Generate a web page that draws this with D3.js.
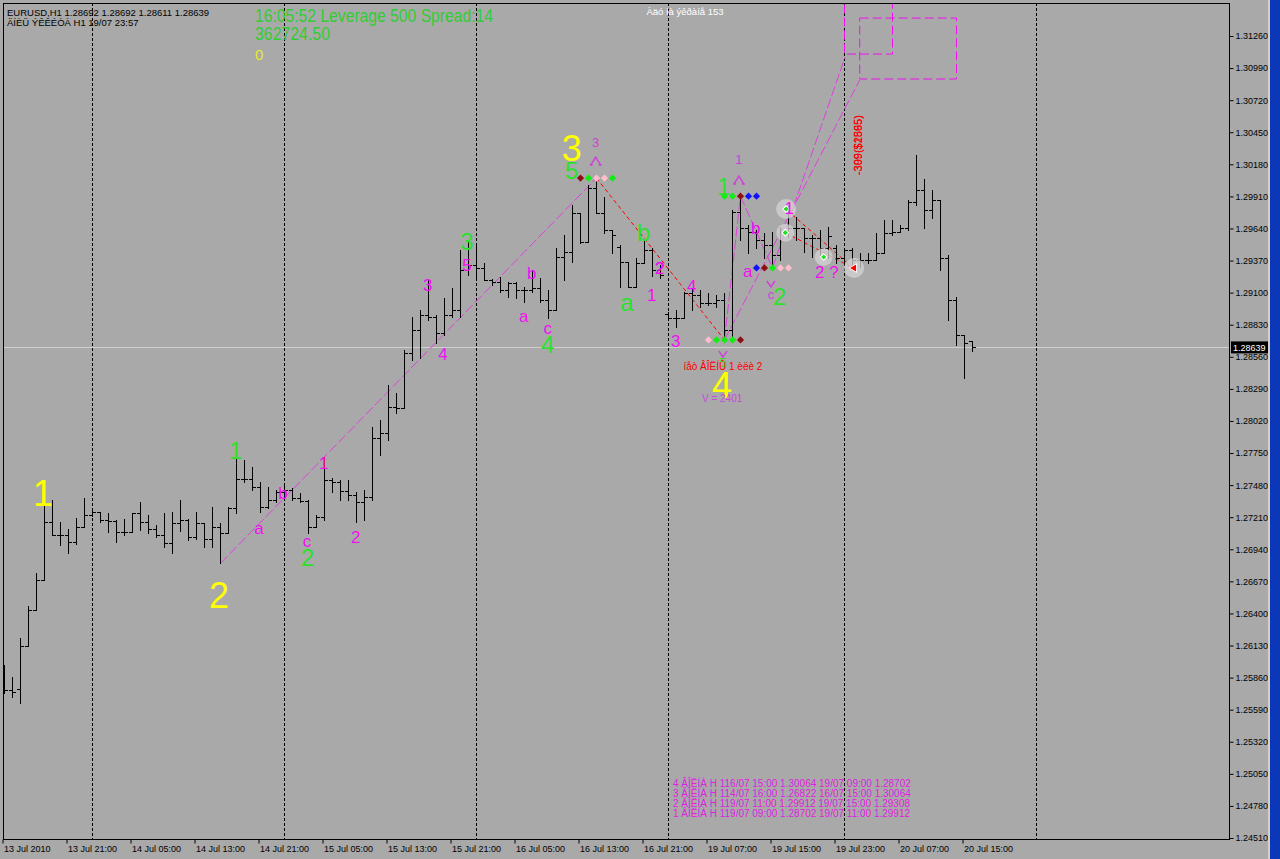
<!DOCTYPE html>
<html><head><meta charset="utf-8">
<script src="https://cdn.jsdelivr.net/npm/d3@7"></script>
<style>
html,body{margin:0;padding:0;background:#a9a9a9;overflow:hidden}
svg{display:block}
text{font-family:"Liberation Sans",Arial,sans-serif}
</style></head><body><svg id="c" width="1280" height="859"></svg>
<script>
// ---------- DATA ----------
const open = [
1.25757,1.25757,1.25765,1.26126,1.26430,1.26682,1.27170,1.27061,1.27061,1.27002,
1.27128,1.27229,1.27254,1.27187,1.27179,1.27086,1.27086,1.27246,1.27170,1.27111,
1.27061,1.26994,1.27162,1.27187,1.27044,1.27162,1.27027,1.27128,1.27078,1.27288,
1.27532,1.27532,1.27464,1.27296,1.27355,1.27422,1.27439,1.27372,1.27346,1.27128,
1.27212,1.27523,1.27506,1.27431,1.27397,1.27338,1.27380,1.27877,1.27919,1.28137,
1.28129,1.28592,1.28785,1.28911,1.28894,1.28760,1.28911,1.28953,1.29290,1.29332,
1.29307,1.29206,1.29189,1.29122,1.29181,1.29122,1.29122,1.29139,1.29038,1.28953,
1.29399,1.29441,1.29770,1.29525,1.29980,1.29770,1.29626,1.29483,1.29357,1.29147,
1.29349,1.29458,1.29290,1.28920,1.28886,1.28886,1.29097,1.29080,1.29012,1.29012,
1.29038,1.28785,1.29779,1.29643,1.29610,1.29542,1.29500,1.29416,1.29610,1.29643,
1.29643,1.29559,1.29559,1.29475,1.29475,1.29391,1.29458,1.29374,1.29374,1.29374,
1.29433,1.29601,1.29610,1.29643,1.29862,1.29963,1.29795,1.29879,1.29391,1.29038,
1.28743,1.28692];
const high = [
1.25967,1.25866,1.26195,1.26463,1.26741,1.27355,1.27355,1.27170,1.27111,1.27204,
1.27372,1.27288,1.27254,1.27246,1.27187,1.27195,1.27246,1.27338,1.27229,1.27145,
1.27246,1.27254,1.27355,1.27195,1.27254,1.27162,1.27296,1.27162,1.27296,1.27843,
1.27692,1.27633,1.27506,1.27464,1.27439,1.27481,1.27456,1.27414,1.27355,1.27229,
1.27717,1.27540,1.27523,1.27523,1.27422,1.27439,1.27969,1.28028,1.28323,1.28255,
1.28617,1.28894,1.28953,1.29206,1.28911,1.29055,1.29139,1.29458,1.29525,1.29500,
1.29349,1.29214,1.29231,1.29189,1.29189,1.29147,1.29290,1.29223,1.29122,1.29475,
1.29584,1.29837,1.29770,1.30005,1.30064,1.29905,1.29626,1.29500,1.29357,1.29391,
1.29542,1.29475,1.29332,1.28937,1.28953,1.29105,1.29139,1.29122,1.29097,1.29080,
1.29097,1.29795,1.29912,1.29668,1.29626,1.29601,1.29610,1.29652,1.29837,1.29736,
1.29643,1.29584,1.29626,1.29652,1.29500,1.29475,1.29475,1.29433,1.29433,1.29601,
1.29711,1.29711,1.29668,1.29879,1.30258,1.30055,1.29963,1.29879,1.29416,1.29063,
1.28743,1.28692];
const low = [
1.25732,1.25698,1.25648,1.26126,1.26430,1.26682,1.27061,1.26977,1.26910,1.26985,
1.27128,1.27220,1.27170,1.27086,1.27002,1.27061,1.27086,1.27103,1.27078,1.27044,
1.26960,1.26910,1.27094,1.27019,1.27027,1.26960,1.26960,1.26822,1.27078,1.27246,
1.27506,1.27439,1.27254,1.27288,1.27338,1.27372,1.27355,1.27338,1.27078,1.27128,
1.27187,1.27422,1.27355,1.27355,1.27170,1.27187,1.27355,1.27734,1.27860,1.28087,
1.28129,1.28533,1.28550,1.28869,1.28676,1.28743,1.28894,1.28894,1.29248,1.29206,
1.29206,1.29164,1.29105,1.29063,1.29055,1.29021,1.29105,1.29021,1.28886,1.28953,
1.29206,1.29357,1.29517,1.29525,1.29770,1.29601,1.29433,1.29147,1.29147,1.29147,
1.29349,1.29240,1.29223,1.28869,1.28810,1.28886,1.28953,1.28978,1.28995,1.28978,
1.28702,1.28718,1.29542,1.29433,1.29475,1.29391,1.29308,1.29374,1.29567,1.29542,
1.29441,1.29399,1.29399,1.29391,1.29349,1.29349,1.29315,1.29315,1.29349,1.29374,
1.29433,1.29584,1.29610,1.29626,1.29837,1.29643,1.29728,1.29290,1.28869,1.28659,
1.28381,1.28611];
const close = [
1.25757,1.25740,1.26126,1.26430,1.26682,1.27170,1.27061,1.27061,1.27002,1.27128,
1.27229,1.27254,1.27187,1.27179,1.27086,1.27086,1.27246,1.27170,1.27111,1.27061,
1.26994,1.27162,1.27187,1.27044,1.27162,1.27027,1.27128,1.27078,1.27288,1.27532,
1.27532,1.27464,1.27296,1.27355,1.27422,1.27439,1.27372,1.27346,1.27128,1.27212,
1.27523,1.27506,1.27431,1.27397,1.27338,1.27380,1.27877,1.27919,1.28137,1.28129,
1.28592,1.28785,1.28911,1.28894,1.28760,1.28911,1.28953,1.29290,1.29332,1.29307,
1.29206,1.29189,1.29122,1.29181,1.29122,1.29122,1.29139,1.29038,1.28953,1.29399,
1.29441,1.29770,1.29525,1.29980,1.29770,1.29626,1.29584,1.29357,1.29147,1.29349,
1.29458,1.29290,1.29248,1.28886,1.28886,1.29097,1.29080,1.29012,1.29012,1.29038,
1.28785,1.29779,1.29643,1.29610,1.29542,1.29500,1.29416,1.29610,1.29643,1.29643,
1.29559,1.29559,1.29475,1.29576,1.29391,1.29458,1.29374,1.29374,1.29374,1.29433,
1.29601,1.29610,1.29643,1.29862,1.29963,1.29795,1.29879,1.29391,1.29038,1.28743,
1.28676,1.28639];

const timeLabels = ["13 Jul 2010","13 Jul 21:00","14 Jul 05:00","14 Jul 13:00","14 Jul 21:00","15 Jul 05:00","15 Jul 13:00","15 Jul 21:00","16 Jul 05:00","16 Jul 13:00","16 Jul 21:00","19 Jul 07:00","19 Jul 15:00","19 Jul 23:00","20 Jul 07:00","20 Jul 15:00"];
const timeLabelBars = [0,8,16,24,32,40,48,56,64,72,80,88,96,104,112,120];
const dayGridBars = [11,35,59,83,105,129];
const priceTicks = [1.31260,1.30990,1.30720,1.30450,1.30180,1.29910,1.29640,1.29370,1.29100,1.28830,1.28560,1.28290,1.28020,1.27750,1.27480,1.27210,1.26940,1.26670,1.26400,1.26130,1.25860,1.25590,1.25320,1.25050,1.24780,1.24510];
const lastPrice = 1.28639;

const yellowLabels = [{t:"1",bar:4.8,p:1.27414},{t:"2",bar:26.8,p:1.26556},{t:"3",bar:70.9,p:1.30317},{t:"4",bar:89.7,p:1.28320}];
const greenLabels = [{t:"1",bar:28.9,p:1.27776},{t:"2",bar:37.9,p:1.26876},{t:"3",bar:57.8,p:1.29534},{t:"4",bar:67.9,p:1.28667},{t:"5",bar:70.9,p:1.30131},{t:"b",bar:79.9,p:1.29609},{t:"a",bar:77.8,p:1.28995},{t:"1",bar:89.9,p:1.29997},{t:"2",bar:96.9,p:1.29071}];
const magentaLabels = [{t:"a",bar:31.8,p:1.27103},{t:"b",bar:34.8,p:1.27414},{t:"c",bar:37.8,p:1.26994},{t:"1",bar:39.9,p:1.27667},{t:"2",bar:43.9,p:1.27044},{t:"3",bar:52.9,p:1.29164},{t:"4",bar:54.8,p:1.28583},{t:"5",bar:57.8,p:1.29332},{t:"a",bar:64.9,p:1.28886},{t:"b",bar:65.9,p:1.29265},{t:"c",bar:67.9,p:1.28785},{t:"2",bar:81.9,p:1.29307},{t:"?",bar:81.9,p:1.29307},{t:"1",bar:80.9,p:1.29080},{t:"4",bar:85.9,p:1.29156},{t:"3",bar:83.9,p:1.28693},{t:"b",bar:93.9,p:1.29643},{t:"a",bar:92.9,p:1.29273},{t:"1",bar:98.1,p:1.29812},{t:"2",bar:101.9,p:1.29273},{t:"?",bar:103.7,p:1.29273}];
const violetSmall = [{t:"3",bar:73.9,p:1.30368},{t:"1",bar:91.8,p:1.30225},{t:"c",bar:95.8,p:1.29071}];
const upCarets = [{bar:73.9,p:1.30207},{bar:91.8,p:1.30047}];
const downCarets = [{bar:95.8,p:1.29173},{bar:89.8,p:1.28583}];
const smallGreen = [{t:"5",bar:89.8,p:1.28516}];
const diamondRows = [
 {bar:72,p:1.30064,colors:["maroon","green","pink","pink","green"]},
 {bar:90,p:1.29912,colors:["green","green","maroon","blue","blue"]},
 {bar:94,p:1.29308,colors:["blue","maroon","green","pink","pink"]},
 {bar:88,p:1.28702,colors:["pink","green","green","green","maroon"]}];
const waveLines = [
 {b0:27,p0:1.26822,b1:74,p1:1.30064,kind:"mag"},
 {b0:74,p0:1.30064,b1:90,p1:1.28702,kind:"red"},
 {b0:90,p0:1.28702,b1:92,p1:1.29912,kind:"mag"},
 {b0:92,p0:1.29912,b1:96,p1:1.29308,kind:"mag"},
 {b0:96,p0:1.29308,b1:105.07,p1:1.31083,kind:"mag"},
 {b0:90,p0:1.28702,b1:106.9,p1:1.30890,kind:"mag"},
 {b0:97.8,p0:1.29795,b1:106.1,p1:1.29307,kind:"red"},
 {b0:97.6,p0:1.29605,b1:106.1,p1:1.29307,kind:"red"}];
const targetBoxes = [{b0:105,b1:111,p0:1.3160,p1:1.31108},{b0:106.9,b1:119,p0:1.31411,p1:1.30898}];
const circles = [{bar:97.7,p:1.29804,r:10,m:"g"},{bar:97.6,p:1.29605,r:9,m:"g"},{bar:102.4,p:1.29400,r:9,m:"g"},{bar:106.2,p:1.29307,r:10,m:"r"}];
const redNote = {t:"íåò ÂÎËÍÛ 1 èëè 2",bar:89.8,p:1.28475};
const volNote = {t:"V = 2401",bar:89.7,p:1.28205};
const vertNotes = [{t:"-309($1895)",bar:106.7,p:1.30089},{t:"-399($2565)",bar:106.7,p:1.30089}];
const waveTable = ["4 ÂÎËÍÀ H 116/07 15:00 1.30064 19/07 09:00 1.28702","3 ÂÎËÍÀ H 114/07 16:00 1.26822 16/07 15:00 1.30064","2 ÂÎËÍÀ H 119/07 11:00 1.29912 19/07 15:00 1.29308","1 ÂÎËÍÀ H 119/07 09:00 1.28702 19/07 11:00 1.29912"];
const headerLines = ["EURUSD,H1  1.28692 1.28692 1.28611 1.28639","ÄÍÈÜ ÝÊÊÉÒÀ H1 19/07 23:57"];
const infoLines = ["16:05:52 Leverage 500 Spread:14","362724.50"];
const infoZero = "0";
const barsOnScreen = "Àäó íà ýêðàíå 153";

// ---------- STYLE ----------
const C = {bg:"#a9a9a9",yellow:"#ffff00",green:"#2ee02e",mag:"#f010f0",violet:"#d040d8",red:"#ff0000",
  maroon:"#8b1010",pink:"#ffc0cb",blue:"#1010ff"};
const svg = d3.select("#c");
const plot = {l:3,t:3,r:1229,b:839};
const x = d3.scaleLinear().domain([0,121]).range([4.5,972.5]);
const y = d3.scaleLinear().domain([1.2451,1.3126]).range([838,36]);

svg.append("rect").attr("width",1280).attr("height",859).attr("fill",C.bg);
svg.append("defs").append("clipPath").attr("id","clip").append("rect")
  .attr("x",plot.l).attr("y",plot.t).attr("width",plot.r-plot.l).attr("height",plot.b-plot.t);
const P = svg.append("g").attr("clip-path","url(#clip)");

// grid
P.append("g").selectAll("line").data(dayGridBars).join("line")
  .attr("x1",d=>x(d)).attr("x2",d=>x(d)).attr("y1",plot.t).attr("y2",plot.b)
  .attr("stroke","#000").attr("stroke-dasharray","3,2").attr("shape-rendering","crispEdges");
// last price line
P.append("line").attr("x1",plot.l).attr("x2",plot.r)
  .attr("y1",Math.round(y(lastPrice))+0.5).attr("y2",Math.round(y(lastPrice))+0.5)
  .attr("stroke","#d0d0d0").attr("stroke-width",1);

// target boxes
P.append("g").selectAll("rect").data(targetBoxes).join("rect")
  .attr("x",d=>x(d.b0)).attr("y",d=>y(d.p0)).attr("width",d=>x(d.b1)-x(d.b0)).attr("height",d=>y(d.p1)-y(d.p0))
  .attr("fill","none").attr("stroke",C.mag).attr("stroke-width",1).attr("stroke-dasharray","9,4");

// wave lines
P.append("g").selectAll("line").data(waveLines).join("line")
  .attr("x1",d=>x(d.b0)).attr("y1",d=>y(d.p0)).attr("x2",d=>x(d.b1)).attr("y2",d=>y(d.p1))
  .attr("stroke",d=>d.kind==="red"?C.red:"#e040e0").attr("stroke-width",1)
  .attr("stroke-dasharray",d=>d.kind==="red"?"4,3":"10,3");

// bars
const bars = d3.range(open.length).map(i=>({i,o:open[i],h:high[i],l:low[i],c:close[i]}));
const ry = v=>Math.round(y(v))+0.5;
P.append("g").attr("shape-rendering","crispEdges").selectAll("path").data(bars).join("path")
  .attr("d",d=>{const xi=x(d.i);return `M${xi},${Math.round(y(d.h))}V${Math.round(y(d.l))+1}M${xi-3.5},${ry(d.o)}H${xi}M${xi},${ry(d.c)}H${xi+3.5}`;})
  .attr("stroke","#000").attr("stroke-width",1).attr("fill","none");

// circles
const cg = P.append("g");
cg.selectAll("circle").data(circles).join("circle")
  .attr("cx",d=>x(d.bar)).attr("cy",d=>y(d.p)).attr("r",d=>d.r).attr("fill","#d4d4d4").attr("opacity",0.75);
cg.selectAll("path.m").data(circles).join("path").attr("class","m")
  .attr("transform",d=>`translate(${x(d.bar)},${y(d.p)}) rotate(${d.m==="g"?45:-90})`)
  .attr("d",d=>d.m==="g"?d3.symbol(d3.symbolSquare,22)():d3.symbol(d3.symbolTriangle,32)())
  .attr("fill",d=>d.m==="g"?"#20e020":C.red).attr("stroke","#fff").attr("stroke-width",1);

// diamond rows
const dg = P.append("g");
diamondRows.forEach(row=>{
  dg.selectAll(null).data(row.colors).join("path")
   .attr("transform",(c,k)=>`translate(${x(row.bar+k)},${y(row.p)}) rotate(45)`)
   .attr("d",d3.symbol(d3.symbolSquare,26)())
   .attr("fill",c=>c==="green"?"#10ee10":C[c]);
});

// labels
function labels(arr,size,color){
  P.append("g").selectAll("text").data(arr).join("text")
   .attr("x",d=>x(d.bar)).attr("y",d=>y(d.p)+(/[aceg]/.test(d.t)?0.26:0.36)*size)
   .attr("text-anchor","middle").attr("font-size",size).attr("fill",color).text(d=>d.t);
}
labels(magentaLabels,17,C.mag);
labels(violetSmall,13,C.violet);
labels(smallGreen,13,C.green);
labels(greenLabels,24,C.green);
labels(yellowLabels,36,C.yellow);

// carets
P.append("g").selectAll("path").data(upCarets).join("path")
  .attr("d",d=>{const cx=x(d.bar),cy=y(d.p);return `M${cx-5},${cy+4}L${cx},${cy-4}L${cx+5},${cy+4}M${cx-6},${cy+4}H${cx-3}M${cx+3},${cy+4}H${cx+6}`;})
  .attr("fill","none").attr("stroke",C.violet).attr("stroke-width",1.5);
P.append("g").selectAll("path").data(downCarets).join("path")
  .attr("d",d=>{const cx=x(d.bar),cy=y(d.p);return `M${cx-4},${cy-3}L${cx},${cy+3}L${cx+4},${cy-3}`;})
  .attr("fill","none").attr("stroke",C.violet).attr("stroke-width",1.5);

// notes
P.append("text").attr("x",x(redNote.bar)).attr("y",y(redNote.p)+3.5).attr("text-anchor","middle")
  .attr("font-size",10).attr("fill",C.red).text(redNote.t);
P.append("text").attr("x",x(volNote.bar)).attr("y",y(volNote.p)+3.5).attr("text-anchor","middle")
  .attr("font-size",10).attr("fill","#c848e0").text(volNote.t);
P.append("g").selectAll("text").data(vertNotes).join("text")
  .attr("transform",d=>`translate(${x(d.bar)+4},${y(d.p)}) rotate(-90)`)
  .attr("font-size",11).attr("fill",C.red).text(d=>d.t);

// wave table
P.append("g").selectAll("text").data(waveTable).join("text")
  .attr("x",673).attr("y",(d,i)=>786.5+i*10.2).attr("font-size",10).attr("fill","#e020e0").text(d=>d);

// header
P.append("g").selectAll("text").data(headerLines).join("text")
  .attr("x",7).attr("y",(d,i)=>16+i*10).attr("font-size",9.5).attr("fill","#000").text(d=>d);
P.append("g").selectAll("text").data(infoLines).join("text")
  .attr("x",255).attr("y",(d,i)=>21.5+i*18.5).attr("font-size",18).attr("fill","#33cc33")
  .attr("textLength",(d,i)=>i===0?238:75).attr("lengthAdjust","spacingAndGlyphs").text(d=>d);
P.append("text").attr("x",255).attr("y",59.5).attr("font-size",15).attr("fill","#e8e830").text(infoZero);
P.append("text").attr("x",685).attr("y",15).attr("text-anchor","middle").attr("font-size",9.5).attr("fill","#fff").text(barsOnScreen);

// frame
svg.append("rect").attr("x",plot.l+0.5).attr("y",plot.t+0.5).attr("width",plot.r-plot.l).attr("height",plot.b-plot.t)
  .attr("fill","none").attr("stroke","#000").attr("shape-rendering","crispEdges");

// right price axis
const ax = svg.append("g").attr("transform",`translate(${plot.r+0.5},0)`)
  .call(d3.axisRight(y).tickValues(priceTicks).tickFormat(d3.format(".5f")).tickSize(4).tickPadding(2));
ax.select(".domain").remove();
ax.selectAll("text").attr("font-size",9).attr("font-family","Liberation Sans, Arial").attr("fill","#000");
ax.selectAll("line").attr("stroke","#000");
// last price box
const ly = y(lastPrice);
svg.append("rect").attr("x",1231).attr("y",ly-6).attr("width",38).attr("height",12).attr("fill","#000");
svg.append("text").attr("x",1233).attr("y",ly+3.5).attr("font-size",9).attr("fill","#fff").text(d3.format(".5f")(lastPrice));

// bottom time axis
const bx = svg.append("g").attr("transform",`translate(-2,${plot.b+0.5})`)
  .call(d3.axisBottom(x).tickValues(timeLabelBars).tickFormat((d,i)=>timeLabels[i]).tickSize(4).tickPadding(2));
bx.select(".domain").remove();
bx.selectAll("text").attr("font-size",9).attr("font-family","Liberation Sans, Arial").attr("text-anchor","start").attr("dx",1).attr("dy","0.71em").attr("fill","#000");
bx.selectAll("line").attr("stroke","#000");

// window border
svg.append("rect").attr("x",1268).attr("y",0).attr("width",2).attr("height",859).attr("fill","#d4d0c8");
svg.append("rect").attr("x",1270).attr("y",0).attr("width",10).attr("height",859).attr("fill","#0a38b8");
</script></body></html>
